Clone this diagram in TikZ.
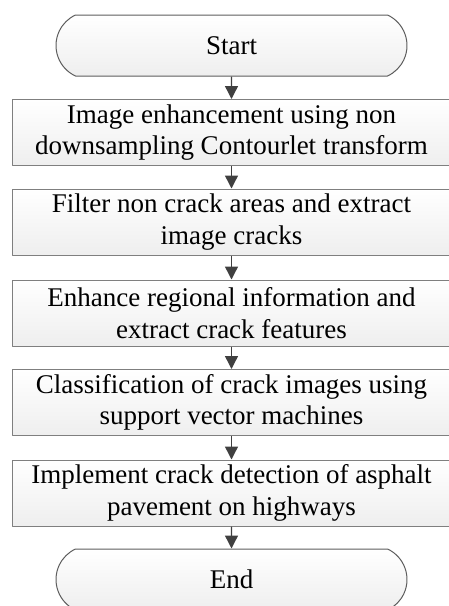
\documentclass[tikz,border=0pt]{standalone}
\usepackage{fontspec}
\setmainfont{Liberation Serif}
\usetikzlibrary{arrows.meta,shapes.misc}
\definecolor{edgegray}{HTML}{7F7F7F}
\definecolor{arrowgray}{HTML}{404040}
\begin{document}
\begin{tikzpicture}[x=1pt, y=-1pt, line join=round,
    stepbox/.style={draw=edgegray, line width=1pt, top color=white, bottom color=gray!13,
        minimum width=439pt, minimum height=66pt, inner sep=0pt, align=center,
        font=\fontsize{27}{31.5}\selectfont},
    term/.style={rounded rectangle, rounded rectangle arc length=130, draw=arrowgray!85, line width=1pt,
        top color=white, bottom color=gray!13, minimum width=351pt, minimum height=61pt,
        inner sep=0pt, font=\fontsize{27}{31.5}\selectfont},
    flow/.style={arrowgray, line width=1.4pt, -{Triangle[width=13pt,length=13pt]}}]
    % 1. Khung hình
    \useasboundingbox (0,0) rectangle (448,606);

    % 2. Các khối của lưu đồ
    \node[term] (start) at (231.5,45.5) {Start};
    \node[stepbox] (enh) at (231.5,132.5) {Image enhancement using non\\downsampling Contourlet transform};
    \node[stepbox] (filt) at (231.5,222) {Filter non crack areas and extract\\image cracks};
    \node[stepbox] (feat) at (231.5,313) {Enhance regional information and\\extract crack features};
    \node[stepbox] (svm) at (231.5,402.5) {Classification of crack images using\\support vector machines};
    \node[stepbox] (det) at (231.5,493) {Implement crack detection of asphalt\\pavement on highways};
    \node[term] (stop) at (231.5,579.5) {End};

    % 3. Mũi tên nối các khối
    \draw[flow] (start) -- (enh);
    \draw[flow] (enh) -- (filt);
    \draw[flow] (filt) -- (feat);
    \draw[flow] (feat) -- (svm);
    \draw[flow] (svm) -- (det);
    \draw[flow] (det) -- (stop);
\end{tikzpicture}
\end{document}
